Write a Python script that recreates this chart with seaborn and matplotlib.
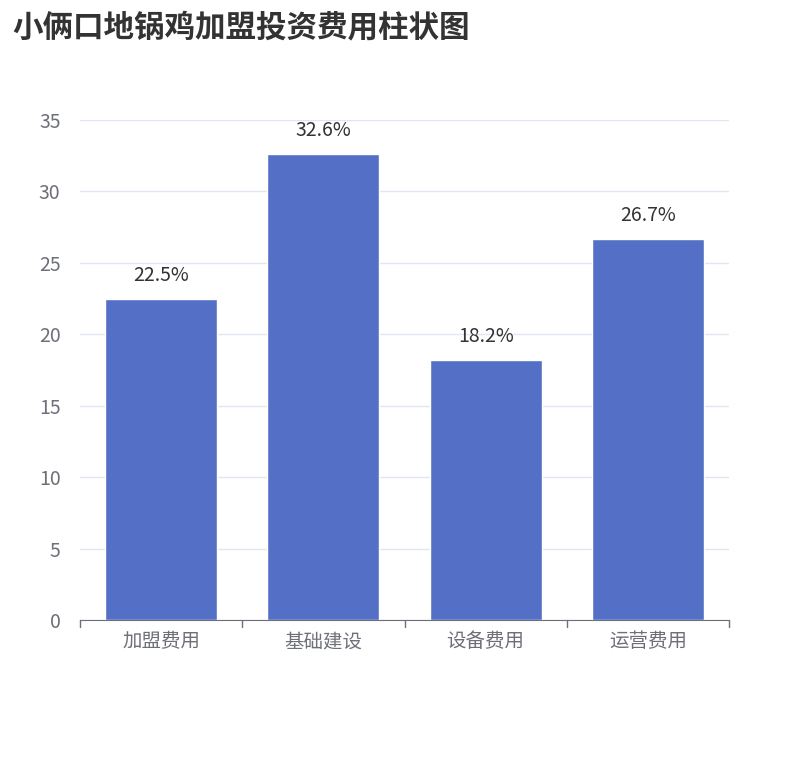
import matplotlib
matplotlib.use("Agg")
import matplotlib.pyplot as plt
import seaborn as sns
import pandas as pd

categories = ["加盟费用", "基础建设", "设备费用", "运营费用"]
values = [22.5, 32.6, 18.2, 26.7]
labels = ["22.5%", "32.6%", "18.2%", "26.7%"]

sns.set_style("white")
plt.rcParams['font.family'] = ['Noto Sans CJK SC', 'DejaVu Sans']

fig = plt.figure(figsize=(8.1, 7.6), dpi=100)
ax = fig.add_axes([80/810, 140/760, 649/810, 500/760])
df = pd.DataFrame({"c": categories, "v": values})
sns.barplot(data=df, x="c", y="v", color="#5470c6", saturation=1, width=0.69, ax=ax)
for i, (v, l) in enumerate(zip(values, labels)):
    ax.text(i, v + 0.9, l, ha="center", va="bottom", fontsize=14, color="#333333")
ax.set_ylim(0, 35)
ax.set_xlim(-0.5, 3.5)
ax.set_yticks(range(0, 36, 5))
ax.grid(axis="y", color="#e0e6f1", lw=1)
ax.set_axisbelow(True)
for s in ["top", "right", "left"]:
    ax.spines[s].set_visible(False)
ax.spines["bottom"].set_color("#6e7079")
ax.set_xlabel(""); ax.set_ylabel("")
ax.tick_params(axis="y", length=0, labelsize=14, labelcolor="#6e7079", pad=14)
ax.set_xticks([0, 1, 2, 3])
ax.tick_params(axis="x", length=0, labelsize=14, labelcolor="#6e7079", pad=8)
for b in [-0.5, 0.5, 1.5, 2.5, 3.5]:
    ax.plot([b, b], [0, -0.5], color="#6e7079", lw=1, clip_on=False)
fig.text(12/810, 1 - 27/760, "小俩口地锅鸡加盟投资费用柱状图", fontsize=22, fontweight="bold",
         color="#333333", va="center", ha="left")
fig.savefig("out.png", dpi=100)
